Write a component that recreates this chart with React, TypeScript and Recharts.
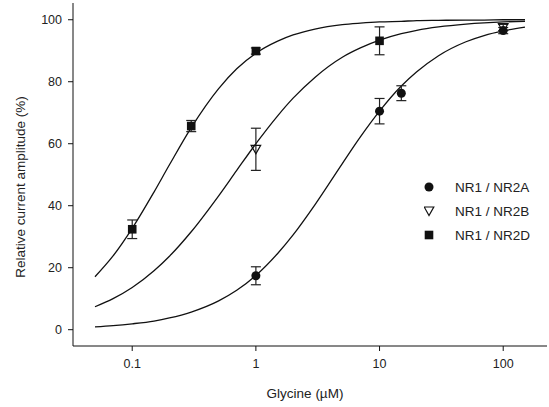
import React from 'react';
import { ComposedChart, Line, Scatter, XAxis, YAxis, ErrorBar } from 'recharts';

// Fitted-curve samples (x in µM, y in %)
const curveX = [0.05, 0.07, 0.1, 0.15, 0.2, 0.3, 0.5, 0.7, 1, 1.5, 2, 3, 5, 7, 10, 15, 20, 30, 50, 70, 100, 150];
const curveA = [0.9, 1.3, 1.9, 2.8, 3.8, 5.7, 9.3, 12.7, 17.5, 24.6, 30.6, 40.3, 53.6, 62.2, 70.5, 78.6, 83.2, 88.4, 92.9, 94.9, 96.4, 97.6];
const curveB = [7.4, 10.0, 13.6, 19.0, 23.7, 31.6, 43.2, 51.4, 60.0, 69.0, 74.7, 81.4, 87.9, 90.9, 93.4, 95.5, 96.6, 97.7, 98.6, 99.0, 99.3, 99.5];
const curveD = [17.1, 23.8, 32.7, 44.4, 53.2, 65.2, 77.8, 84.2, 89.2, 93.1, 95.1, 97.0, 98.4, 98.9, 99.3, 99.5, 99.7, 99.8, 99.9, 99.9, 100, 100];

// Measured points
const xA = [1, 10, 15, 100];
const yA = [17.4, 70.5, 76.3, 96.5];
const eA = [2.9, 4.1, 2.4, 1.0];

const xB = [1, 100];
const yB = [58.2, 97.5];
const eB = [6.8, 1.0];

const xD = [0.1, 0.3, 1, 10];
const yD = [32.4, 65.7, 89.9, 93.2];
const eD = [3.0, 1.8, 1.0, 4.5];

const xTicks = [0.1, 1, 10, 100];
const yTicks = [0, 20, 40, 60, 80, 100];
const seriesNames = ['NR1 / NR2A', 'NR1 / NR2B', 'NR1 / NR2D'];

const FONT = '"Liberation Sans", Arial, sans-serif';
const TXT = '#222';

const mkCurve = (ys: number[]) => curveX.map((x, i) => ({ x, y: ys[i] }));
const mkPts = (xs: number[], ys: number[], es: number[]) => xs.map((x, i) => ({ x, y: ys[i], err: es[i] }));

const Circle = (p: any) => <circle cx={p.cx} cy={p.cy} r={4.5} fill="#111" />;
const Square = (p: any) => <rect x={p.cx - 4.3} y={p.cy - 4.3} width={8.6} height={8.6} fill="#111" />;
const TriDown = (p: any) => (
  <path d={`M${p.cx - 4.8},${p.cy - 4} L${p.cx + 4.8},${p.cy - 4} L${p.cx},${p.cy + 4.5} Z`} fill="none" stroke="#111" strokeWidth={1.2} />
);

const LegendBox = () => {
  const icons = [
    (cx: number, cy: number) => <circle cx={cx} cy={cy} r={4.5} fill="#111" />,
    (cx: number, cy: number) => (
      <path d={`M${cx - 4.8},${cy - 4} L${cx + 4.8},${cy - 4} L${cx},${cy + 4.5} Z`} fill="none" stroke="#111" strokeWidth={1.2} />
    ),
    (cx: number, cy: number) => <rect x={cx - 4.3} y={cy - 4.3} width={8.6} height={8.6} fill="#111" />,
  ];
  return (
    <svg width={130} height={72} style={{ position: 'absolute', left: 424, top: 176, display: 'block' }}>
      {seriesNames.map((n, i) => (
        <g key={n}>
          {icons[i](5, 11 + i * 24)}
          <text x={31} y={11 + i * 24} dy="0.35em" fontSize={13.5} fill={TXT} fontFamily={FONT}>{n}</text>
        </g>
      ))}
    </svg>
  );
};

export default function App() {
  return (
    <div style={{ position: 'absolute', left: 0, top: 0, width: 549, height: 407, background: '#fff' }}>
      <ComposedChart width={549} height={407} margin={{ top: 3, right: 2, bottom: 0, left: 0 }}>
        <XAxis
          dataKey="x"
          type="number"
          scale="log"
          domain={[0.0332, 226]}
          ticks={xTicks}
          allowDataOverflow
          height={61}
          stroke="#111"
          tickSize={5}
          tickMargin={8}
          tickFormatter={(v: number) => String(v)}
          tick={{ fill: TXT, fontSize: 12.5, fontFamily: FONT }}
          label={{
            content: () => (
              <text x={305} y={393} textAnchor="middle" dy="0.35em" fill={TXT} fontSize={13.5} fontFamily={FONT}>Glycine (µM)</text>
            ),
          }}
        />
        <YAxis
          dataKey="y"
          type="number"
          domain={[-5.26, 105.4]}
          ticks={yTicks}
          allowDataOverflow
          width={73}
          stroke="#111"
          tickSize={5}
          tickMargin={6}
          tick={{ fill: TXT, fontSize: 12.5, fontFamily: FONT }}
          label={{
            content: () => (
              <text x={20} y={187} transform="rotate(-90 20 187)" textAnchor="middle" dy="0.35em" fill={TXT} fontSize={13.5} fontFamily={FONT}>
                Relative current amplitude (%)
              </text>
            ),
          }}
        />
        <Line data={mkCurve(curveA)} dataKey="y" type="monotone" stroke="#111" strokeWidth={1.3} dot={false} isAnimationActive={false} />
        <Line data={mkCurve(curveB)} dataKey="y" type="monotone" stroke="#111" strokeWidth={1.3} dot={false} isAnimationActive={false} />
        <Line data={mkCurve(curveD)} dataKey="y" type="monotone" stroke="#111" strokeWidth={1.3} dot={false} isAnimationActive={false} />
        <Scatter data={mkPts(xA, yA, eA)} dataKey="y" shape={Circle} isAnimationActive={false}>
          <ErrorBar dataKey="err" direction="y" width={5} stroke="#222" strokeWidth={1.2} isAnimationActive={false} />
        </Scatter>
        <Scatter data={mkPts(xB, yB, eB)} dataKey="y" shape={TriDown} isAnimationActive={false}>
          <ErrorBar dataKey="err" direction="y" width={5} stroke="#222" strokeWidth={1.2} isAnimationActive={false} />
        </Scatter>
        <Scatter data={mkPts(xD, yD, eD)} dataKey="y" shape={Square} isAnimationActive={false}>
          <ErrorBar dataKey="err" direction="y" width={5} stroke="#222" strokeWidth={1.2} isAnimationActive={false} />
        </Scatter>
      </ComposedChart>
      <LegendBox />
    </div>
  );
}
